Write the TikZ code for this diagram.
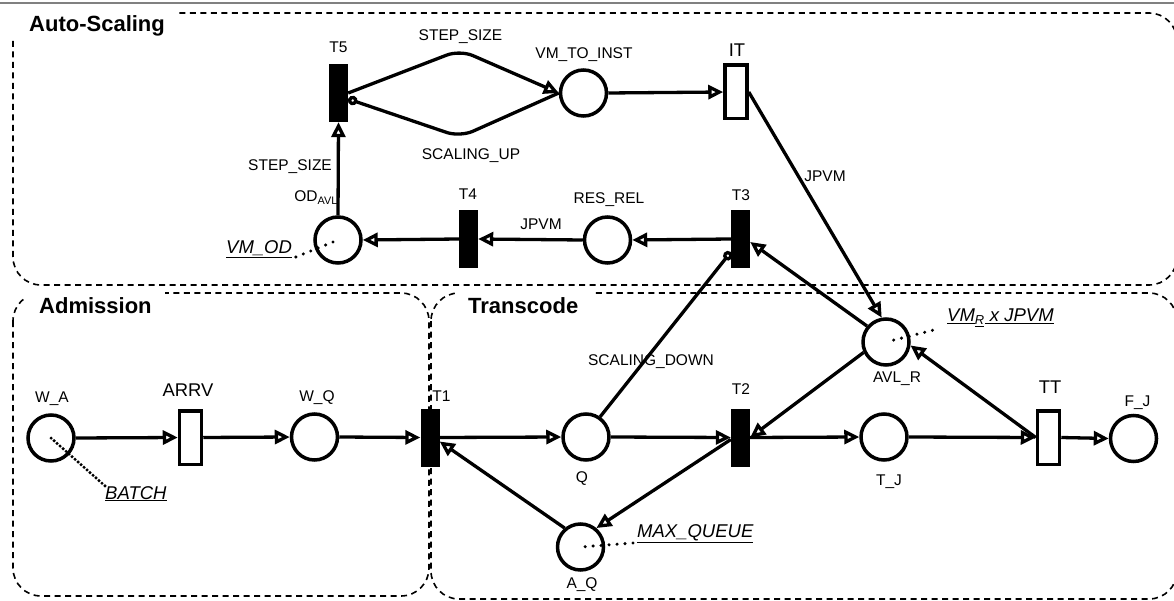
\documentclass[tikz,border=0pt]{standalone}
\usepackage{fontspec}
\setmainfont{Liberation Sans}
\usetikzlibrary{arrows.meta}

\begin{document}
\begin{tikzpicture}[x=1pt,y=-1pt,
  place/.style={circle, draw, line width=3.5pt, minimum size=46pt, inner sep=0pt},
  blacktr/.style={rectangle, fill=black, minimum width=19pt, minimum height=58pt, inner sep=0pt},
  whitetr/.style={rectangle, draw, fill=white, line width=3.5pt, minimum width=22pt, minimum height=53.5pt, inner sep=0pt},
  arc/.style={line width=3.3pt, -{Triangle[open, length=15pt, width=14pt]}},
  inhib/.style={line width=3.3pt, -{Circle[open, length=9.5pt]}},
  lbl/.style={font=\fontsize{15.5}{17}\selectfont, inner sep=0pt, anchor=base},
  biglbl/.style={font=\fontsize{18.4}{20}\selectfont, inner sep=0pt, anchor=base},
  ilbl/.style={font=\fontsize{18.5}{20}\selectfont\itshape, inner sep=0pt, anchor=base},
  title/.style={font=\fontsize{22}{24}\selectfont\bfseries, inner sep=0pt, anchor=base west},
  groupbox/.style={line width=1.6pt, dash pattern=on 6pt off 4.5pt, rounded corners=28pt},
  dots/.style={line width=3.4pt, line cap=round, dash pattern=on 0pt off 8pt},
  densedots/.style={line width=3.4pt, line cap=round, dash pattern=on 0pt off 4pt},
]
\useasboundingbox (0,0) rectangle (1174,601);
\clip (0,0) rectangle (1174,601);

% top rule
\draw[line width=1.5pt, gray] (0,3) -- (1174,3);

% group frames
\draw[groupbox] (13,13) rectangle (1177,285);
\draw[groupbox] (13,293) rectangle (429,596);
\draw[groupbox] (431,293) rectangle (1177,599);

% title backgrounds and titles
\fill[white] (11,7) rectangle (178,40);
\fill[white] (24,288) rectangle (165,318);
\fill[white] (459,288) rectangle (593,318);
\node[title] (tauto) at (29,32) {Auto-Scaling};
\node[title] (tadm) at (39,313) {Admission};
\node[title] (ttrans) at (468,313) {Transcode};

% places
\node[place] (VM) at (583.5,93) {};
\node[place] (OD) at (338,240) {};
\node[place] (RES) at (607.5,240) {};
\node[place] (WA) at (51,438) {};
\node[place] (WQ) at (314.5,437) {};
\node[place] (Q) at (586,437) {};
\node[place] (AQ) at (580.5,547) {};
\node[place] (AVLR) at (886,342) {};
\node[place] (TJ) at (884,437) {};
\node[place] (FJ) at (1133.5,438.5) {};

% transitions
\node[blacktr] (T5) at (338.5,93) {};
\node[blacktr] (T4) at (468.5,239) {};
\node[blacktr] (T3) at (740.5,239) {};
\node[blacktr] (T1) at (430,437.5) {};
\node[blacktr] (T2) at (740.5,437.5) {};
\node[whitetr] (IT) at (736,92) {};
\node[whitetr] (ARRV) at (190.5,437.5) {};
\node[whitetr] (TT) at (1048.5,437.5) {};

% node labels
\node[lbl] (lT5) at (338.5,53) {T5};
\node[lbl] (lVM) at (584,59) {VM\_TO\_INST};
\node[biglbl] (lIT) at (737,57) {IT};
\node[lbl] (lT4) at (468,200) {T4};
\node[lbl] (lRES) at (609,204) {RES\_REL};
\node[lbl] (lT3) at (741,200.5) {T3};
\node[lbl] (lWA) at (52,402) {W\_A};
\node[biglbl] (lARRV) at (188,396.5) {ARRV};
\node[lbl] (lWQ) at (317,401) {W\_Q};
\node[lbl] (lT1) at (441.5,401.5) {T1};
\node[lbl] (lQ) at (582,482) {Q};
\node[lbl] (lT2) at (741,394) {T2};
\node[lbl] (lAQ) at (582,588) {A\_Q};
\node[lbl] (lAVLR) at (897,382) {AVL\_R};
\node[lbl] (lTJ) at (889,485) {T\_J};
\node[biglbl] (lTT) at (1050,393) {TT};
\node[lbl] (lFJ) at (1137.5,406) {F\_J};

% arc inscriptions
\node[lbl] (wstepa) at (460.5,41) {STEP\_SIZE};
\node[lbl] (wscup) at (471,160) {SCALING\_UP};
\node[lbl, anchor=base east] (wstepb) at (332,170.5) {STEP\_SIZE};
\node[lbl, anchor=base east] (wodavl) at (338,202) {OD\textsubscript{AVL}};
\node[lbl] (wjpvma) at (541,230) {JPVM};
\node[lbl] (wjpvmb) at (825,182) {JPVM};
\node[lbl] (wscdown) at (651,365) {SCALING\_DOWN};

% initial markings
\node[ilbl, anchor=base west] (mvmod) at (226,254) {\underline{VM\_OD}};
\node[ilbl, anchor=base west] (mbatch) at (105,499) {\underline{BATCH}};
\node[ilbl, anchor=base west] (mmaxq) at (637,537) {\underline{MAX\_QUEUE}};
\node[ilbl, anchor=base west] (mvmr) at (947,321.5) {\underline{VM}\textsubscript{\underline{R}}\underline{\ x JPVM}};

% auto-scaling arcs
\draw[arc, rounded corners=14pt] (T5.east) -- (460,50) -- (VM.west);
\draw[inhib, rounded corners=14pt] (VM.west) -- (460,137) -- ([yshift=-6pt]T5.east);
\draw[arc] (VM.east) -- (IT.west);
\draw[arc] (IT.east) -- (AVLR.100);
\draw[arc] (T3.west) -- (RES.east);
\draw[arc] (RES.west) -- (T4.east);
\draw[arc] (T4.west) -- (OD.east);
\draw[arc] (OD.north) -- (T5.south);

% admission arcs
\draw[arc] (WA.east) -- (ARRV.west);
\draw[arc] (ARRV.east) -- (WQ.west);
\draw[arc] (WQ.east) -- (T1.west);

% transcode arcs
\draw[arc] (T1.east) -- (Q.west);
\draw[arc] (Q.east) -- (T2.west);
\draw[arc] (T2.east) -- (TJ.west);
\draw[arc] (TJ.east) -- (TT.west);
\draw[arc] (TT.east) -- (FJ.west);
\draw[arc] (TT.west) -- (AVLR.-8);
\draw[arc] (AVLR.205) -- (T2.east);
\draw[arc] (AVLR.140) -- ([yshift=-3pt]T3.east);
\draw[arc] ([yshift=-2pt]T2.west) -- (AQ.50);
\draw[arc] (AQ.130) -- ([yshift=-4pt]T1.east);
\draw[inhib] (Q.55) -- ([yshift=-13pt]T3.west);

% marking leaders
\draw[dots, shorten <=4pt] (mvmod.south east) -- (OD.center);
\draw[densedots] (mbatch.north west) -- (WA.center);
\draw[dots, shorten <=4pt] (mmaxq.south west) -- (AQ.center);
\draw[dots, shorten <=15pt] (mvmr.south west) -- (AVLR.center);
\end{tikzpicture}
\end{document}
